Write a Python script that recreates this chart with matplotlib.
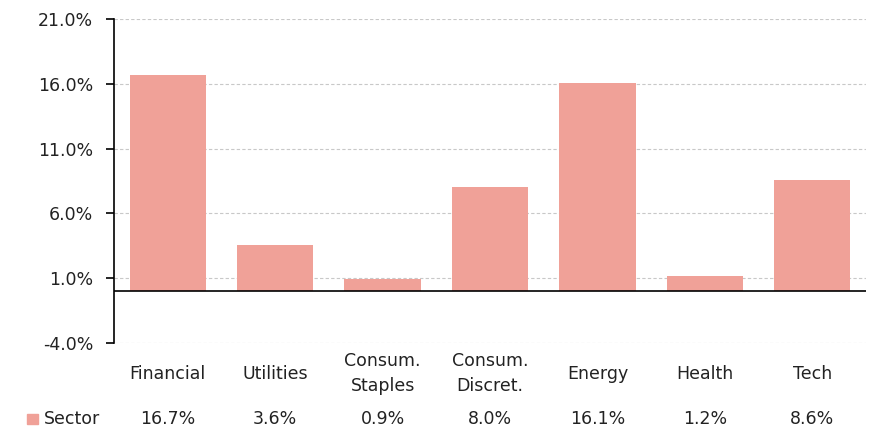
import matplotlib.pyplot as plt
import numpy as np

plt.rcParams['font.family'] = ['DejaVu Sans']

sectors = ["Financial", "Utilities", "Consum.\nStaples", "Consum.\nDiscret.", "Energy", "Health", "Tech"]
values = [16.7, 3.6, 0.9, 8.0, 16.1, 1.2, 8.6]
series_name = "Sector"
bar_color = "#F0A198"

yticks = np.arange(-4, 22, 5)

fig = plt.figure(figsize=(8.69, 4.32), dpi=100)
ax = fig.add_axes([114 / 869, 1 - 343 / 432, 1 - 114 / 869 - 3 / 869, (343 - 19) / 432])

x = np.arange(len(sectors))
ax.bar(x, values, width=0.71, color=bar_color, zorder=3)
ax.axhline(0, color="black", linewidth=1.2, zorder=4)

ax.set_xlim(-0.5, len(sectors) - 0.5)
ax.set_ylim(-4, 21)
ax.set_yticks(yticks)
ax.set_yticklabels([f"{v:.1f}%" for v in yticks], fontsize=12.5, color="#222222")
ax.yaxis.grid(True, linestyle=(0, (3, 2)), color="#c8c8c8", linewidth=0.8, zorder=0)
ax.tick_params(axis="y", length=6, width=1.2, color="black", pad=9)
ax.set_xticks([])

for s in ["top", "right", "bottom"]:
    ax.spines[s].set_visible(False)
ax.spines["left"].set_linewidth(1.2)

# category labels and the data row below the plot
for i, name in enumerate(sectors):
    ax.annotate(name, xy=(i, 0), xycoords=("data", "axes fraction"),
                xytext=(0, -22), textcoords="offset points",
                ha="center", va="center", fontsize=12.5, linespacing=1.5,
                color="#222222")
    ax.annotate(f"{values[i]:.1f}%", xy=(i, 0), xycoords=("data", "axes fraction"),
                xytext=(0, -55), textcoords="offset points",
                ha="center", va="center", fontsize=12.5, color="#222222")

fig.patches.append(plt.Rectangle((27 / 869, 1 - 424 / 432), 11 / 869, 10 / 432,
                                 transform=fig.transFigure, color=bar_color))
fig.text(44 / 869, 1 - 419 / 432, series_name, ha="left", va="center", fontsize=12.5,
         color="#222222")

fig.savefig("out.png", dpi=100)
